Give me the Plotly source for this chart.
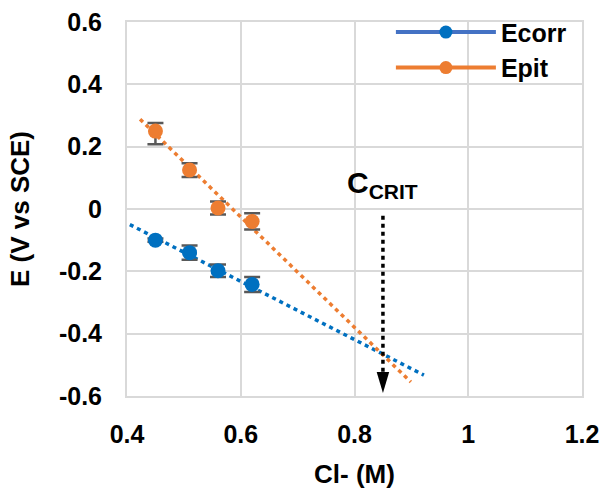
import plotly.graph_objects as go

# ---- data ----
cl = [0.45, 0.51, 0.56, 0.62]
ecorr = [-0.10, -0.14, -0.198, -0.242]
ecorr_err = [0.005, 0.023, 0.02, 0.024]
epit = [0.25, 0.125, 0.003, -0.04]
epit_err_plus = [0.026, 0.022, 0.021, 0.026]
epit_err_minus = [0.042, 0.022, 0.021, 0.026]

ecorr_trend_x = [0.405, 0.922]
ecorr_trend_y = [-0.05, -0.533]
epit_trend_x = [0.423, 0.899]
epit_trend_y = [0.288, -0.555]

c_crit = 0.85
arrow_top = -0.022
arrow_tip = -0.59
arrow_head_base = -0.523

xticks = [0.4, 0.6, 0.8, 1.0, 1.2]
xticklabels = ["0.4", "0.6", "0.8", "1", "1.2"]
yticks = [0.6, 0.4, 0.2, 0, -0.2, -0.4, -0.6]
yticklabels = ["0.6", "0.4", "0.2", "0", "-0.2", "-0.4", "-0.6"]

BLUE = "#0070C0"
BLUE_LEG = "#4472C4"
ORANGE = "#ED7D31"
GRID = "#D9D9D9"
FONT = "Liberation Sans, Arial, sans-serif"

fig = go.Figure()

# trendlines
fig.add_trace(go.Scatter(x=ecorr_trend_x, y=ecorr_trend_y, mode="lines",
                         line=dict(color=BLUE, width=3.5, dash="4px,4px"),
                         showlegend=False, hoverinfo="skip"))
fig.add_trace(go.Scatter(x=epit_trend_x, y=epit_trend_y, mode="lines",
                         line=dict(color=ORANGE, width=3.5, dash="4px,4px"),
                         showlegend=False, hoverinfo="skip"))

# data points
fig.add_trace(go.Scatter(x=cl, y=ecorr, mode="markers",
                         marker=dict(color=BLUE, size=15),
                         error_y=dict(type="data", array=ecorr_err, color="#595959",
                                      thickness=2.5, width=8),
                         showlegend=False))
fig.add_trace(go.Scatter(x=cl, y=epit, mode="markers",
                         marker=dict(color=ORANGE, size=15),
                         error_y=dict(type="data", symmetric=False, array=epit_err_plus,
                                      arrayminus=epit_err_minus, color="#595959",
                                      thickness=2.5, width=8),
                         showlegend=False))

# legend entries (line + marker)
fig.add_trace(go.Scatter(x=[None], y=[None], mode="lines+markers", name="Ecorr",
                         line=dict(color=BLUE_LEG, width=4),
                         marker=dict(color=BLUE, size=13)))
fig.add_trace(go.Scatter(x=[None], y=[None], mode="lines+markers", name="Epit",
                         line=dict(color=ORANGE, width=4),
                         marker=dict(color=ORANGE, size=13)))

# C_CRIT dotted arrow
fig.add_shape(type="line", x0=c_crit, x1=c_crit, y0=arrow_top, y1=arrow_head_base,
              line=dict(color="black", width=3.5, dash="4px,4px"))
fig.add_shape(type="path",
              path=f"M {c_crit-0.011},{arrow_head_base} L {c_crit+0.011},{arrow_head_base} L {c_crit},{arrow_tip} Z",
              fillcolor="black", line=dict(color="black", width=0))
fig.add_annotation(x=c_crit, y=0.08, text="C<sub>CRIT</sub>", showarrow=False,
                   font=dict(family=FONT, size=30, color="black", weight="bold"),
                   xanchor="center", yanchor="middle")

TITLE_FONT = dict(family=FONT, size=26, color="black", weight="bold")
axis_common = dict(showgrid=True, gridcolor=GRID, gridwidth=2,
                   showline=True, linecolor=GRID, linewidth=2, mirror=True,
                   zeroline=False, ticks="outside", tickcolor="rgba(0,0,0,0)",
                   automargin=False,
                   tickfont=dict(family=FONT, size=25, color="black", weight="bold"))

fig.update_xaxes(range=[0.4, 1.2], tickvals=xticks, ticktext=xticklabels, ticklen=15,
                 title=dict(text="Cl- (M)", standoff=18, font=TITLE_FONT),
                 **axis_common)
fig.update_yaxes(range=[-0.6, 0.6], tickvals=yticks, ticktext=yticklabels, ticklen=18,
                 title=dict(text="E (V vs SCE)", standoff=22, font=TITLE_FONT),
                 **axis_common)

fig.update_layout(
    width=606, height=495,
    margin=dict(l=127, r=24, t=22, b=99, autoexpand=False),
    plot_bgcolor="white", paper_bgcolor="white",
    font=dict(family=FONT, color="black"),
    legend=dict(x=0.58, y=1.034, xanchor="left", yanchor="top",
                bgcolor="rgba(0,0,0,0)", itemwidth=100,
                font=dict(family=FONT, size=25, color="black", weight="bold"),
                tracegroupgap=0),
)

fig.write_html("out.html")
